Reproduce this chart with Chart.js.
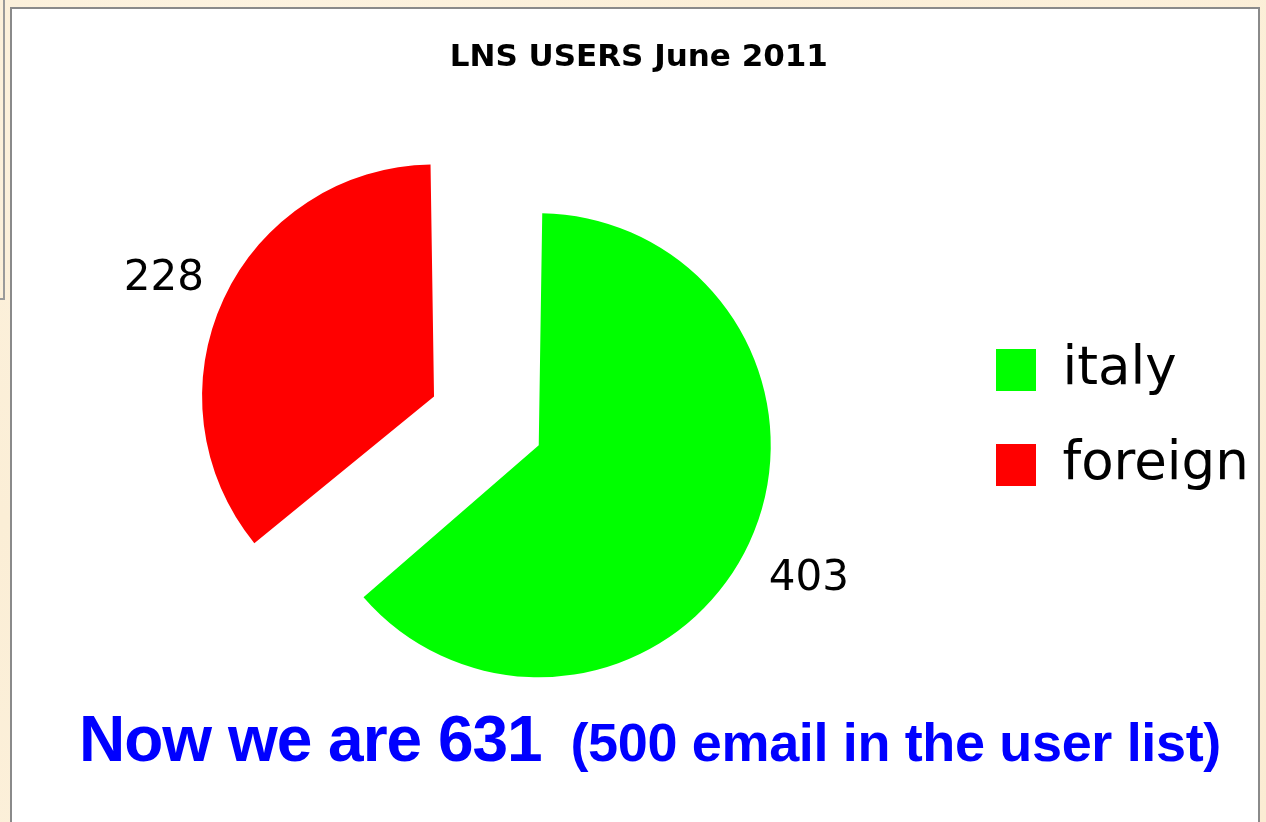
<!DOCTYPE html>
<html>
<head>
<meta charset="utf-8">
<script src="https://cdn.jsdelivr.net/npm/chart.js@4"></script>
<style>
html,body{margin:0;padding:0;width:1266px;height:822px;overflow:hidden;background:#fcefd8;}
#bg{position:absolute;left:0;top:0;width:1266px;height:822px;
  background:radial-gradient(circle at 20% 10%, #fdf3e0 0%, #fbeed6 40%, #fcf0da 70%, #fbecd3 100%);}
#frame{position:absolute;left:-10px;top:-10px;width:15px;height:310px;box-sizing:border-box;border:2px solid #9a9a9a;}
#panel{position:absolute;left:10px;top:7px;width:1250px;height:840px;box-sizing:border-box;background:#fff;border:2px solid #8a8a8a;}
#chart{position:absolute;left:0;top:0;}
#note{position:absolute;left:79px;top:707px;white-space:nowrap;color:#0000ff;font-family:'Liberation Sans',Arial,sans-serif;font-weight:bold;line-height:65px;}
#note .big{font-size:64px;letter-spacing:-1px;}
#note .small{font-size:54px;letter-spacing:-0.35px;margin-left:12px;}
</style>
</head>
<body>
<div id="bg"></div>
<div id="frame"></div>
<div id="panel"></div>
<canvas id="chart" width="1266" height="822"></canvas>
<div id="note"><span class="big">Now we are 631 </span><span class="small">(500 email in the user list)</span></div>
<script>
// ---- data ----
const categories = ['italy', 'foreign'];
const users = [403, 228];
const sliceColors = ['#00ff00', '#ff0000'];
const chartTitle = 'LNS USERS June 2011';

// ---- layout helpers (sizes only) ----
const legendFont = '53px "DejaVu Sans"';
const titleFontStr = 'bold 31px "DejaVu Sans"';
const mctx = document.createElement('canvas').getContext('2d');
mctx.font = legendFont;
const longest = Math.max(...categories.map(c => mctx.measureText(c).width));
const legendPad = 42, legendBox = 40, legendLeft = 954, padLeft = 83.6;
const legendW = legendPad + legendBox + 53 / 2 + longest + 10;
const padRight = 1266 - legendLeft - legendW;
// title is centred over the full width; nudge it to the reference centre (x≈638)
mctx.font = titleFontStr;
const titleCentre = (padLeft + 1266 - padRight) / 2;
const nSp = Math.max(0, Math.round(2 * (titleCentre - 638) / mctx.measureText(' ').width));
const titleText = chartTitle + ' '.repeat(nSp);

// ---- value labels drawn next to each slice ----
const valueLabels = {
  id: 'valueLabels',
  afterDatasetsDraw(chart) {
    const ctx = chart.ctx;
    const meta = chart.getDatasetMeta(0);
    ctx.save();
    ctx.font = '42px "DejaVu Sans"';
    ctx.fillStyle = '#000';
    ctx.textAlign = 'center';
    ctx.textBaseline = 'middle';
    meta.data.forEach((arc, i) => {
      const p = arc.getProps(['x', 'y', 'startAngle', 'endAngle', 'outerRadius'], true);
      const off = (arc.options.offset || 0) / 4;
      const circ = p.endAngle - p.startAngle;
      const fix = 1 - Math.sin(Math.min(Math.PI, circ));
      const mid = (p.startAngle + p.endAngle) / 2;
      const cx = p.x + Math.cos(mid) * off;
      const cy = p.y + Math.sin(mid) * off;
      const r = p.outerRadius + off * fix + 66;
      ctx.fillText(String(chart.data.datasets[0].data[i]), cx + Math.cos(mid) * r, cy + Math.sin(mid) * r + 8);
    });
    ctx.restore();
  }
};

Chart.defaults.font.family = '"DejaVu Sans"';

new Chart(document.getElementById('chart'), {
  type: 'pie',
  data: {
    labels: categories,
    datasets: [{
      data: users,
      backgroundColor: sliceColors,
      borderColor: sliceColors,
      borderWidth: 0,
      offset: [88, 374],
      radius: 210,
      clip: false
    }]
  },
  options: {
    responsive: false,
    animation: false,
    events: [],
    layout: { padding: { left: padLeft, right: padRight, top: 0, bottom: 36.6 } },
    plugins: {
      title: {
        display: true,
        text: titleText,
        color: '#000',
        font: { family: '"DejaVu Sans"', size: 31, weight: 'bold', lineHeight: 1.2 },
        padding: { top: 39.4, bottom: 10 }
      },
      legend: {
        position: 'right',
        align: 'start',
        title: { display: true, text: '', font: { size: 12, lineHeight: 1.2 }, padding: { top: 287.1, bottom: 0 } },
        labels: {
          boxWidth: legendBox,
          boxHeight: 42,
          padding: legendPad,
          color: '#000',
          font: { family: '"DejaVu Sans"', size: 53 }
        }
      },
      tooltip: { enabled: false }
    }
  },
  plugins: [valueLabels]
});
</script>
</body>
</html>
